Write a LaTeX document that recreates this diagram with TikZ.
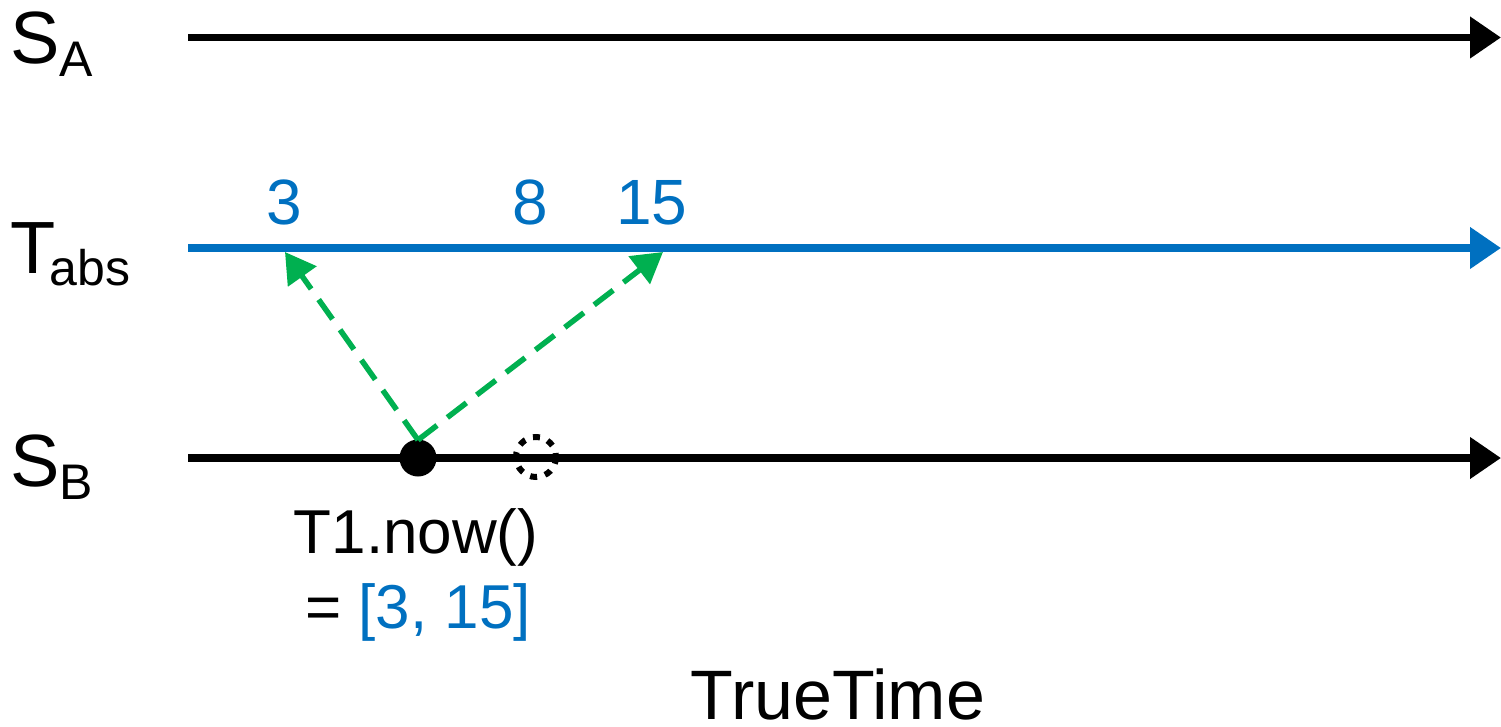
\documentclass[tikz,border=0pt]{standalone}
\usepackage{fontspec}
\setmainfont{Liberation Sans}
\usetikzlibrary{arrows.meta}
\definecolor{absblue}{RGB}{0,112,192}
\definecolor{ttgreen}{RGB}{0,176,80}
\newcommand{\fsz}[1]{\fontsize{#1}{#1}\selectfont}
\newcommand{\lowsub}[1]{\raisebox{-13pt}{\fsz{50}#1}}

\begin{document}
\begin{tikzpicture}[x=1pt,y=-1pt,>={Triangle[length=31pt,width=40pt]},line join=miter,
  timeline/.style={line width=7.5pt,->},
  bound/.style={ttgreen,line width=5.5pt,dash pattern=on 24pt off 13pt,
    -{Triangle[length=30pt,width=34pt]}},
  lbl/.style={anchor=base west,inner sep=0pt,font=\fsz{74}},
  tick/.style={absblue,anchor=base,inner sep=0pt,font=\fsz{64}},
  txt/.style={anchor=base,inner sep=0pt,font=\fsz{62}}]
\useasboundingbox (0,0) rectangle (1501,727);
% time lines
\coordinate (a0) at (188,37.5);  \coordinate (a1) at (1501,37.5);
\coordinate (t0) at (188,248);   \coordinate (t1) at (1501,248);
\coordinate (b0) at (188,458);   \coordinate (b1) at (1501,458);
\draw[timeline] (a0) -- (a1);
\draw[timeline,absblue] (t0) -- (t1);
\draw[timeline] (b0) -- (b1);
\node[lbl] (sa) at (10,64) {S\lowsub{A}};
\node[lbl] (tabs) at (10,273) {T\kern-6pt\lowsub{abs}};
\node[lbl] (sb) at (10,486) {S\lowsub{B}};
% interval on T_abs
\node[tick] (n3) at (284,225) {3};
\node[tick] (n8) at (530,225) {8};
\node[tick] (n15) at (652,225) {15};
\coordinate (lo) at (285,252);
\coordinate (hi) at (663,252);
% event on S_B
\fill (418,458) circle (18.5pt);
\coordinate (ev) at (418,440);
\draw[line width=6pt,dash pattern=on 7pt off 8.2pt,dash phase=3pt] (536,457) circle (20pt);
\draw[bound] (ev) -- (lo);
\draw[bound] (ev) -- (hi);
\node[txt] (now) at (416,553) {T1.now()};
\node[txt] (res) at (418,628) {= \textcolor{absblue}{[3, 15]}};
\node[txt,font=\fsz{70}] (title) at (838,719) {TrueTime};
\end{tikzpicture}
\end{document}
